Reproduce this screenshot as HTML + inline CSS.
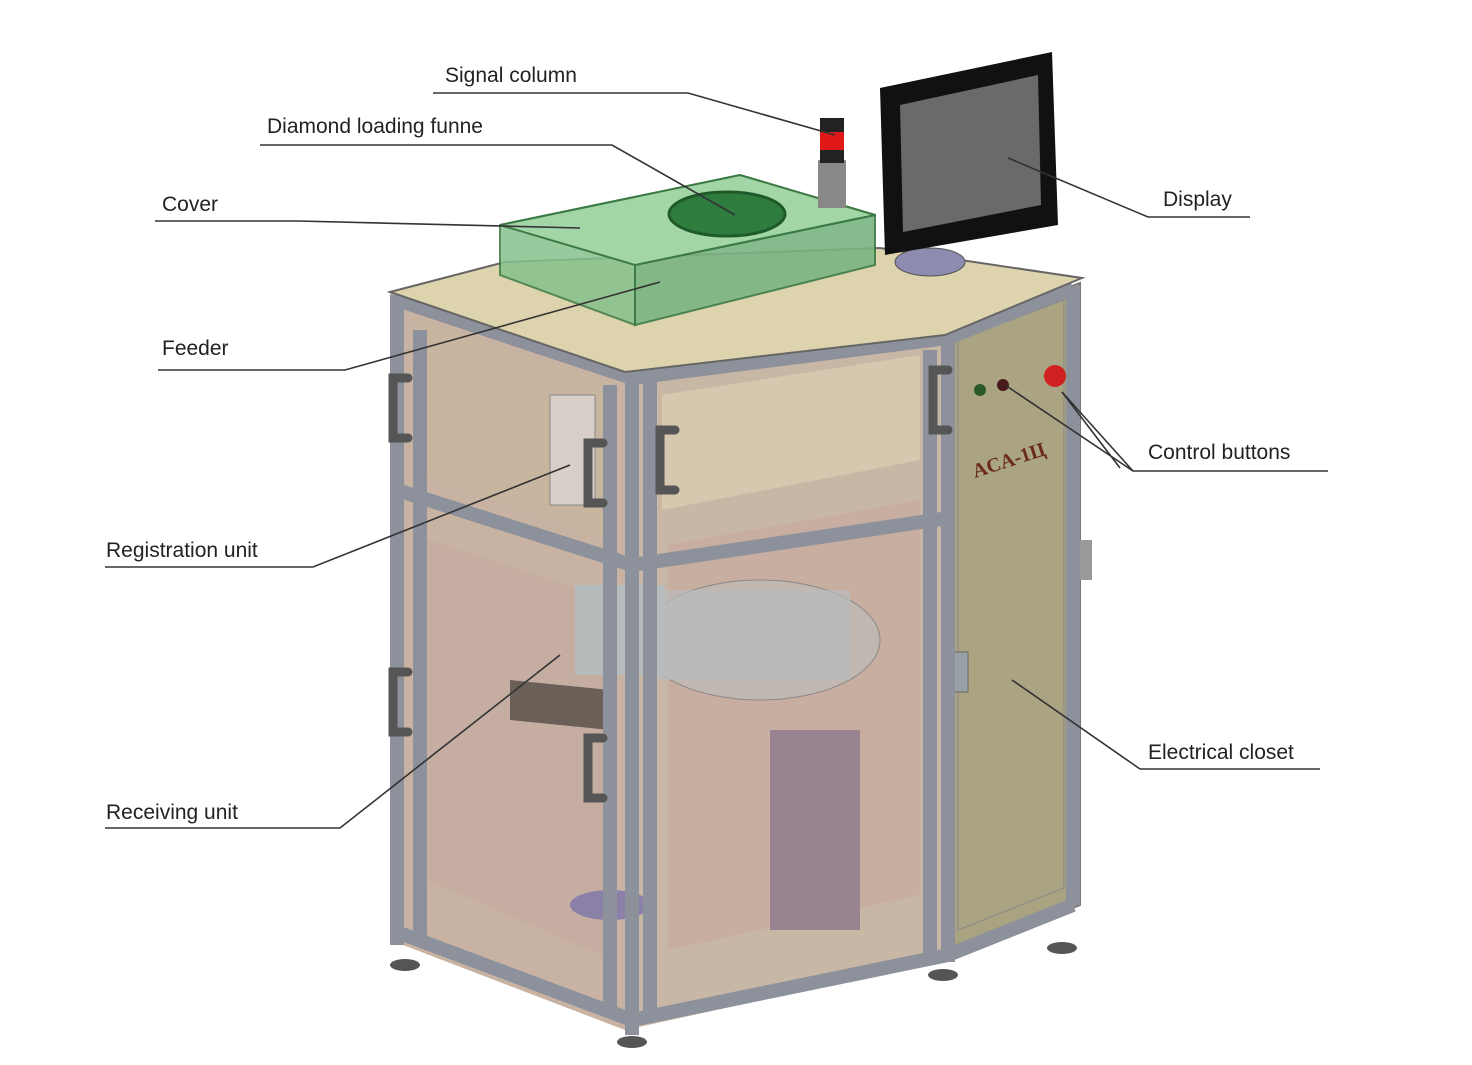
<!DOCTYPE html>
<html><head><meta charset="utf-8"><style>
html,body{margin:0;padding:0;background:#fff}
svg{display:block}
text{font-family:"Liberation Sans",sans-serif;font-size:21px;fill:#222}
</style></head><body>
<svg width="1472" height="1065" viewBox="0 0 1472 1065" xmlns="http://www.w3.org/2000/svg">
<!-- electrical closet -->
<polygon points="945,335 1080,283 1080,905 945,960" fill="#a9a382" stroke="#777" stroke-width="2"/>
<polygon points="958,340 1064,300 1064,888 958,930" fill="#aaa483" stroke="#888"/>
<rect x="1078" y="540" width="14" height="40" fill="#999"/>
<text x="975" y="478" style="font-family:'Liberation Serif',serif;font-size:20px;font-weight:bold;fill:#6a2a1e" transform="rotate(-18 975 478)">ACA-1Ц</text>
<circle cx="980" cy="390" r="6" fill="#2a5a2a"/><circle cx="1003" cy="385" r="6" fill="#4a1a1a"/>
<circle cx="1055" cy="376" r="11" fill="#d02020"/>
<rect x="928" y="652" width="40" height="40" fill="#9aa0a8" stroke="#666"/>
<!-- front right face -->
<polygon points="625,372 945,335 945,960 625,1030" fill="#c9b7a6"/>
<polygon points="662,395 920,355 920,460 662,510" fill="#d8ccb0" opacity=".8"/>
<polygon points="668,545 920,500 920,895 668,950" fill="#c8aea0"/>
<rect x="770" y="730" width="90" height="200" fill="#9a8390"/>
<ellipse cx="760" cy="640" rx="120" ry="60" fill="#c0b8b0" stroke="#888"/>
<rect x="650" y="590" width="200" height="90" fill="#b8bcbc" opacity=".7"/>
<!-- front left face -->
<polygon points="390,292 625,372 625,1030 390,940" fill="#c8b3a3"/>
<polygon points="420,320 610,385 610,540 420,475" fill="#c7b5a0"/>
<rect x="550" y="395" width="45" height="110" fill="#d8d0c8" stroke="#888"/>
<polygon points="428,540 612,600 612,960 428,880" fill="#c5ada2"/>
<rect x="575" y="585" width="90" height="90" fill="#b6bcbc"/>
<polygon points="510,680 610,690 610,730 510,720" fill="#6a6058"/>
<ellipse cx="610" cy="905" rx="40" ry="15" fill="#8a80a8"/>
<!-- frame -->
<g fill="none" stroke="#8c919b" stroke-width="14">
<polyline points="397,295 397,945"/><polyline points="632,372 632,1035"/>
<polyline points="948,338 948,962"/><polyline points="1073,286 1073,905"/>
<polyline points="397,300 632,378 948,338 1073,288"/>
<polyline points="397,490 632,565 948,518"/>
<polyline points="397,932 632,1020 948,955 1073,905"/>
<polyline points="420,330 420,940"/><polyline points="610,385 610,1010"/>
<polyline points="650,380 650,1020"/><polyline points="930,350 930,955"/>
</g>
<g fill="none" stroke="#555" stroke-width="9" stroke-linecap="round">
<path d="M408,378 h-15 v60 h15"/><path d="M408,672 h-15 v60 h15"/>
<path d="M603,443 h-15 v60 h15"/><path d="M675,430 h-15 v60 h15"/>
<path d="M603,738 h-15 v60 h15"/><path d="M948,370 h-15 v60 h15"/>
</g>
<g fill="#555"><ellipse cx="405" cy="965" rx="15" ry="6"/><ellipse cx="632" cy="1042" rx="15" ry="6"/><ellipse cx="943" cy="975" rx="15" ry="6"/><ellipse cx="1062" cy="948" rx="15" ry="6"/></g>
<!-- top plate -->
<polygon points="390,292 505,262 880,248 1082,278 945,335 625,372" fill="#ddd3ac" stroke="#666" stroke-width="2"/>
<!-- display stand -->
<ellipse cx="930" cy="262" rx="35" ry="14" fill="#8d8cb0" stroke="#555"/>
<!-- cover -->
<polygon points="500,225 740,175 875,215 635,265 635,325 500,275" fill="#86c28d" opacity=".85" stroke="#3b7a45" stroke-width="2"/>
<polygon points="635,265 875,215 875,265 635,325" fill="#7ab482" opacity=".9" stroke="#3b7a45" stroke-width="2"/>
<polygon points="500,225 740,175 875,215 635,265" fill="#a2d6a6" stroke="#3b7a45" stroke-width="2"/>
<ellipse cx="727" cy="214" rx="58" ry="22" fill="#2f7d3e" stroke="#1e5a2a" stroke-width="3"/>
<!-- signal column -->
<rect x="818" y="160" width="28" height="48" fill="#888"/>
<rect x="820" y="118" width="24" height="45" fill="#222"/>
<rect x="820" y="132" width="24" height="18" fill="#e01818"/>
<!-- display -->
<polygon points="880,88 1052,52 1058,225 885,255" fill="#111"/>
<polygon points="900,105 1038,75 1041,205 903,232" fill="#6a6a6a"/>
<!-- leaders -->
<g stroke="#333" stroke-width="1.6" fill="none">
<polyline points="433,93 688,93 835,135"/>
<polyline points="260,145 612,145 735,215"/>
<polyline points="155,221 298,221 580,228"/>
<polyline points="158,370 345,370 660,282"/>
<polyline points="105,567 313,567 570,465"/>
<polyline points="105,828 340,828 560,655"/>
<polyline points="1250,217 1148,217 1008,158"/>
<polyline points="1328,471 1133,471 1062,392"/>
<line x1="1133" y1="471" x2="1005" y2="385"/>
<line x1="1120" y1="468" x2="1062" y2="392"/>
<polyline points="1320,769 1140,769 1012,680"/>
</g>
<text x="445" y="82">Signal column</text>
<text x="267" y="133">Diamond loading funne</text>
<text x="162" y="211">Cover</text>
<text x="162" y="355">Feeder</text>
<text x="106" y="557">Registration unit</text>
<text x="106" y="819">Receiving unit</text>
<text x="1163" y="206">Display</text>
<text x="1148" y="459">Control buttons</text>
<text x="1148" y="759">Electrical closet</text>
</svg>
</body></html>
